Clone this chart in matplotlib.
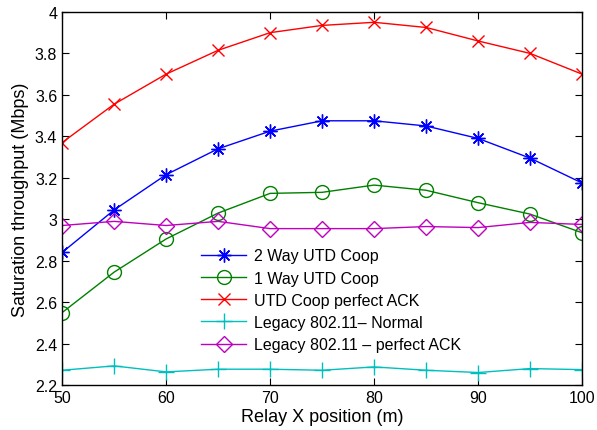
import numpy as np
import matplotlib
matplotlib.use("Agg")
import matplotlib.pyplot as plt

plt.rcParams['font.family'] = ['Liberation Sans', 'DejaVu Sans']

relay_x = [50, 55, 60, 65, 70, 75, 80, 85, 90, 95, 100]

two_way = [2.84, 3.045, 3.215, 3.34, 3.425, 3.475, 3.475, 3.45, 3.39, 3.295, 3.175]
one_way = [2.55, 2.745, 2.905, 3.03, 3.125, 3.13, 3.165, 3.14, 3.08, 3.025, 2.935]
perfect_ack = [3.37, 3.555, 3.70, 3.815, 3.90, 3.935, 3.95, 3.925, 3.86, 3.80, 3.70]
legacy_normal = [2.272, 2.293, 2.264, 2.277, 2.277, 2.272, 2.288, 2.272, 2.261, 2.28, 2.275]
legacy_perfect = [2.97, 2.99, 2.97, 2.99, 2.955, 2.955, 2.955, 2.965, 2.96, 2.985, 2.975]

labels = ["2 Way UTD Coop", "1 Way UTD Coop", "UTD Coop perfect ACK",
          "Legacy 802.11\u2013 Normal", "Legacy 802.11 \u2013 perfect ACK"]

fig = plt.figure(figsize=(5.97, 4.31), dpi=100)
ax = fig.add_axes([0.104, 0.104, 0.871, 0.866])

# asterisk like matlab '*'
ax.plot(relay_x, two_way, color='blue', marker=(8, 2, 0), ms=10, mew=1, lw=1, label=labels[0])
ax.plot(relay_x, one_way, color=(0, 0.5, 0), marker='o', ms=10, mfc='none', mew=1, lw=1, label=labels[1])
ax.plot(relay_x, perfect_ack, color='red', marker='x', ms=8.5, mew=1, lw=1, label=labels[2])
ax.plot(relay_x, legacy_normal, color=(0, 0.75, 0.75), marker='+', ms=11, mew=1, lw=1, label=labels[3])
ax.plot(relay_x, legacy_perfect, color=(0.75, 0, 0.75), marker='D', ms=8.5, mfc='none', mew=1, lw=1, label=labels[4])

ax.set_xlim(50, 100)
ax.set_ylim(2.2, 4)
ax.set_xticks([50, 60, 70, 80, 90, 100])
yt = [2.2, 2.4, 2.6, 2.8, 3.0, 3.2, 3.4, 3.6, 3.8, 4.0]
ax.set_yticks(yt)
ax.set_yticklabels(['%g' % v for v in yt])
ax.tick_params(direction='in', top=True, right=True, labelsize=11.5, length=5)
for s in ax.spines.values():
    s.set_linewidth(1)

ax.set_xlabel("Relay X position (m)", fontsize=13, labelpad=2)
ax.set_ylabel("Saturation throughput (Mbps)", fontsize=13, labelpad=4)

ax.legend(loc='upper left', bbox_to_anchor=(0.24, 0.405), frameon=False, fontsize=11.5,
          handlelength=2.8, labelspacing=0.45, handletextpad=0.5)

fig.savefig("out.png", dpi=100)
